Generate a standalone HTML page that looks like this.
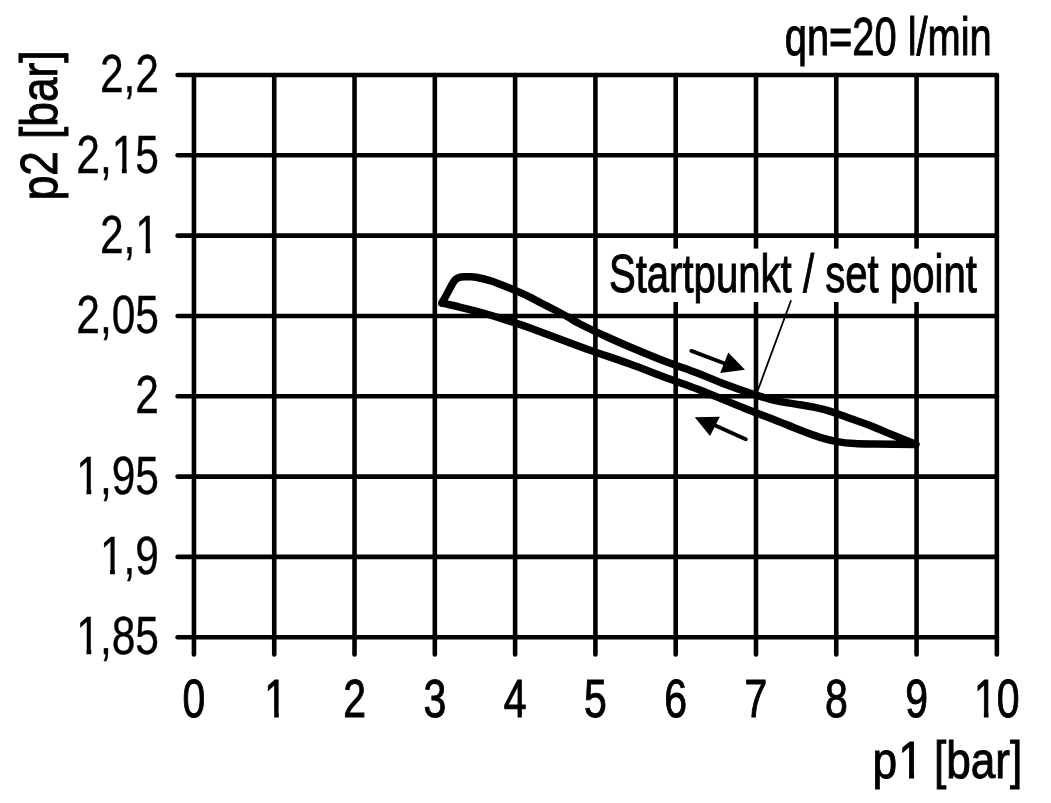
<!DOCTYPE html>
<html><head><meta charset="utf-8"><style>
html,body{margin:0;padding:0;background:#fff;}
svg{display:block;will-change:transform;}
text{font-family:"Liberation Sans",sans-serif;fill:#000;stroke:#000;stroke-width:1.0px;}
</style></head><body>
<svg width="1051" height="803" viewBox="0 0 1051 803">
<rect width="1051" height="803" fill="#fff"/>
<g stroke="#000" stroke-width="4.6" stroke-linecap="round"><line x1="177.6" y1="75.00" x2="996.85" y2="75.00"/><line x1="177.6" y1="155.32" x2="996.85" y2="155.32"/><line x1="177.6" y1="235.64" x2="996.85" y2="235.64"/><line x1="177.6" y1="315.96" x2="996.85" y2="315.96"/><line x1="177.6" y1="396.28" x2="996.85" y2="396.28"/><line x1="177.6" y1="476.60" x2="996.85" y2="476.60"/><line x1="177.6" y1="556.92" x2="996.85" y2="556.92"/><line x1="177.6" y1="637.24" x2="996.85" y2="637.24"/><line x1="193.95" y1="75" x2="193.95" y2="654.4"/><line x1="274.24" y1="75" x2="274.24" y2="654.4"/><line x1="354.53" y1="75" x2="354.53" y2="654.4"/><line x1="434.82" y1="75" x2="434.82" y2="654.4"/><line x1="515.11" y1="75" x2="515.11" y2="654.4"/><line x1="595.40" y1="75" x2="595.40" y2="654.4"/><line x1="675.69" y1="75" x2="675.69" y2="654.4"/><line x1="755.98" y1="75" x2="755.98" y2="654.4"/><line x1="836.27" y1="75" x2="836.27" y2="654.4"/><line x1="916.56" y1="75" x2="916.56" y2="654.4"/><line x1="996.85" y1="75" x2="996.85" y2="654.4"/></g>
<rect x="600" y="248.6" width="390" height="53.4" fill="#fff"/>
<path d="M441.8,303.2 C442.75,301.50 445.80,296.12 447.50,293.00 C449.20,289.88 450.67,286.73 452.00,284.50 C453.33,282.27 454.25,280.78 455.50,279.60 C456.75,278.42 457.92,277.87 459.50,277.40 C461.08,276.93 463.25,276.92 465.00,276.80 C466.75,276.68 468.17,276.63 470.00,276.70 C471.83,276.77 472.67,276.55 476.00,277.20 C479.33,277.85 486.00,279.43 490.00,280.60 C494.00,281.77 496.05,282.67 500.00,284.20 C503.95,285.73 509.13,287.87 513.70,289.80 C518.27,291.73 522.83,293.60 527.40,295.80 C531.97,298.00 536.53,300.63 541.10,303.00 C545.67,305.37 550.23,307.62 554.80,310.00 C559.37,312.38 564.30,314.97 568.50,317.30 C572.70,319.63 573.73,320.80 580.00,324.00 C586.27,327.20 597.18,332.42 606.10,336.50 C615.02,340.58 623.82,344.42 633.50,348.50 C643.18,352.58 653.37,356.83 664.20,361.00 C675.03,365.17 688.80,369.80 698.50,373.50 C708.20,377.20 713.85,379.95 722.40,383.20 C730.95,386.45 741.47,390.23 749.80,393.00 C758.13,395.77 764.07,397.83 772.40,399.80 C780.73,401.77 792.70,403.53 799.80,404.80 C806.90,406.07 809.88,406.32 815.00,407.40 C820.12,408.48 824.48,409.40 830.50,411.30 C836.52,413.20 844.52,416.43 851.10,418.80 C857.68,421.17 863.05,422.80 870.00,425.50 C876.95,428.20 885.13,431.85 892.80,435.00 C900.47,438.15 912.13,442.83 916.00,444.40 C909.17,444.35 885.18,444.23 875.00,444.10 C864.82,443.97 861.17,444.02 854.90,443.60 C848.63,443.18 843.22,442.65 837.40,441.60 C831.58,440.55 826.27,439.23 820.00,437.30 C813.73,435.37 807.73,433.05 799.80,430.00 C791.87,426.95 781.53,422.58 772.40,419.00 C763.27,415.42 757.32,413.42 745.00,408.50 C732.68,403.58 711.97,394.75 698.50,389.50 C685.03,384.25 675.62,381.25 664.20,377.00 C652.78,372.75 641.97,368.33 630.00,364.00 C618.03,359.67 603.23,354.83 592.40,351.00 C581.57,347.17 575.83,345.00 565.00,341.00 C554.17,337.00 535.95,330.08 527.40,327.00 C518.85,323.92 519.97,324.50 513.70,322.50 C507.43,320.50 496.07,316.88 489.80,315.00 C483.53,313.12 480.67,312.40 476.10,311.20 C471.53,310.00 466.97,308.92 462.40,307.80 C457.83,306.68 452.13,305.27 448.70,304.50 C445.27,303.73 442.95,303.42 441.80,303.20 Z" fill="none" stroke="#000" stroke-width="7.5" stroke-linejoin="round"/>
<g stroke="#000" stroke-width="3.9" stroke-linecap="round" fill="#000">
<line x1="691.4" y1="350.9" x2="726" y2="364"/>
<polygon points="745,369.7 728.3,352.4 720.2,372.9" stroke="none"/>
<line x1="745.8" y1="439.3" x2="712" y2="424"/>
<polygon points="694.8,417.2 719.9,416.8 710,436" stroke="none"/>
</g>
<line x1="756.8" y1="393" x2="791.1" y2="300.3" stroke="#000" stroke-width="1.8"/>
<text id="y0" transform="translate(159.00,92.20) scale(0.79,1)" text-anchor="end" font-size="53.8" style="stroke-width:0.35px">2,2</text><text id="y1" transform="translate(159.00,172.52) scale(0.79,1)" text-anchor="end" font-size="53.8" style="stroke-width:0.35px">2,15</text><g transform="translate(159.00,172.52) scale(0.79,1)" fill="#fff"><rect x="-57.24" y="-5.62" width="10.28" height="7.12"/><rect x="-40.90" y="-5.62" width="9.86" height="7.12"/></g><text id="y2" transform="translate(159.00,252.84) scale(0.79,1)" text-anchor="end" font-size="53.8" style="stroke-width:0.35px">2,1</text><g transform="translate(159.00,252.84) scale(0.79,1)" fill="#fff"><rect x="-27.33" y="-5.62" width="10.28" height="7.12"/><rect x="-10.99" y="-5.62" width="9.86" height="7.12"/></g><text id="y3" transform="translate(159.00,333.16) scale(0.79,1)" text-anchor="end" font-size="53.8" style="stroke-width:0.35px">2,05</text><text id="y4" transform="translate(159.00,413.48) scale(0.79,1)" text-anchor="end" font-size="53.8" style="stroke-width:0.35px">2</text><text id="y5" transform="translate(159.00,493.80) scale(0.79,1)" text-anchor="end" font-size="53.8" style="stroke-width:0.35px">1,95</text><g transform="translate(159.00,493.80) scale(0.79,1)" fill="#fff"><rect x="-102.10" y="-5.62" width="10.28" height="7.12"/><rect x="-85.76" y="-5.62" width="9.86" height="7.12"/></g><text id="y6" transform="translate(159.00,574.12) scale(0.79,1)" text-anchor="end" font-size="53.8" style="stroke-width:0.35px">1,9</text><g transform="translate(159.00,574.12) scale(0.79,1)" fill="#fff"><rect x="-72.19" y="-5.62" width="10.28" height="7.12"/><rect x="-55.85" y="-5.62" width="9.86" height="7.12"/></g><text id="y7" transform="translate(159.00,654.44) scale(0.79,1)" text-anchor="end" font-size="53.8" style="stroke-width:0.35px">1,85</text><g transform="translate(159.00,654.44) scale(0.79,1)" fill="#fff"><rect x="-102.10" y="-5.62" width="10.28" height="7.12"/><rect x="-85.76" y="-5.62" width="9.86" height="7.12"/></g><text id="x0" transform="translate(193.95,716.90) scale(0.77,1)" text-anchor="middle" font-size="53.2">0</text><text id="x1" transform="translate(275.74,716.90) scale(0.77,1)" text-anchor="middle" font-size="53.2">1</text><g transform="translate(275.74,716.90) scale(0.77,1)" fill="#fff"><rect x="-12.24" y="-5.57" width="10.18" height="7.07"/><rect x="3.94" y="-5.57" width="9.76" height="7.07"/></g><text id="x2" transform="translate(354.53,716.90) scale(0.77,1)" text-anchor="middle" font-size="53.2">2</text><text id="x3" transform="translate(434.82,716.90) scale(0.77,1)" text-anchor="middle" font-size="53.2">3</text><text id="x4" transform="translate(515.11,716.90) scale(0.77,1)" text-anchor="middle" font-size="53.2">4</text><text id="x5" transform="translate(595.40,716.90) scale(0.77,1)" text-anchor="middle" font-size="53.2">5</text><text id="x6" transform="translate(675.69,716.90) scale(0.77,1)" text-anchor="middle" font-size="53.2">6</text><text id="x7" transform="translate(755.98,716.90) scale(0.77,1)" text-anchor="middle" font-size="53.2">7</text><text id="x8" transform="translate(836.27,716.90) scale(0.77,1)" text-anchor="middle" font-size="53.2">8</text><text id="x9" transform="translate(916.56,716.90) scale(0.77,1)" text-anchor="middle" font-size="53.2">9</text><text id="x10" transform="translate(996.85,716.90) scale(0.77,1)" text-anchor="middle" font-size="53.2">10</text><g transform="translate(996.85,716.90) scale(0.77,1)" fill="#fff"><rect x="-27.04" y="-5.57" width="10.18" height="7.07"/><rect x="-10.86" y="-5.57" width="9.76" height="7.07"/></g><text id="p1" transform="translate(872.50,778.00) scale(0.851,1)" text-anchor="start" font-size="51.9">p<tspan dx="1.7">1</tspan><tspan dx="-1.7"> </tspan>[bar]</text><g transform="translate(872.50,778.00) scale(0.851,1)" fill="#fff"><rect x="33.01" y="-5.48" width="9.95" height="6.98"/><rect x="48.85" y="-5.48" width="9.54" height="6.98"/></g><text id="qn" transform="translate(784.80,55.30) scale(0.7487,1)" text-anchor="start" font-size="53.18">qn=20 l/min</text><text id="p2" transform="translate(56.90,200.30) rotate(-90) scale(0.851,1)" text-anchor="start" font-size="51.9">p2 [bar]</text><text id="st" transform="translate(608.90,292.10) scale(0.7367,1)" text-anchor="start" font-size="54.47">Startpunkt / set point</text>
</svg>
</body></html>
